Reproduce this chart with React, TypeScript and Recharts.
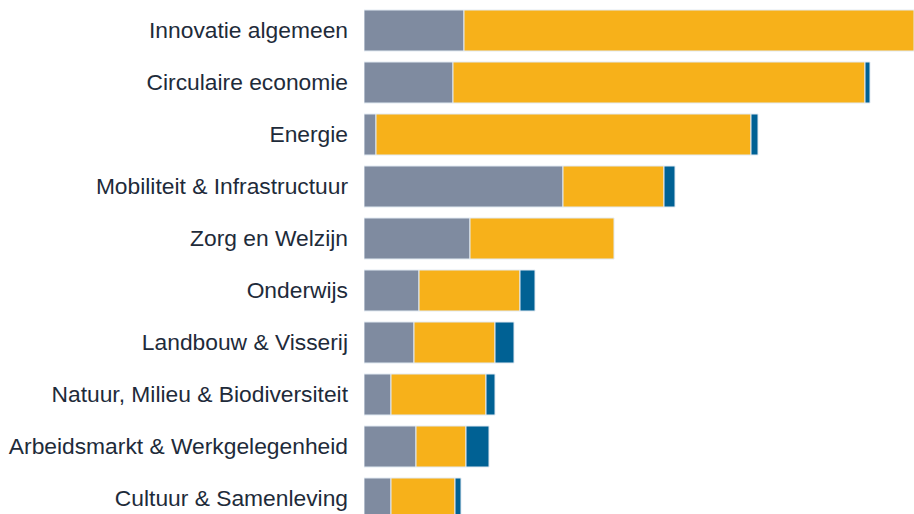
import { BarChart, Bar, XAxis, YAxis } from "recharts";

// categories, top to bottom
const categories = [
  "Innovatie algemeen",
  "Circulaire economie",
  "Energie",
  "Mobiliteit & Infrastructuur",
  "Zorg en Welzijn",
  "Onderwijs",
  "Landbouw & Visserij",
  "Natuur, Milieu & Biodiversiteit",
  "Arbeidsmarkt & Werkgelegenheid",
  "Cultuur & Samenleving",
];

const grijs = [50, 44.5, 6, 99.5, 53, 27.5, 25, 13.5, 26, 13.5];
const geel = [250, 206, 187.5, 50.5, 72, 50.5, 40.5, 47.5, 25, 32];
const blauw = [4, 2.5, 3.5, 5.5, 0, 7.5, 9.5, 4.5, 11.5, 3];

const data = categories.map((name, i) => ({
  name,
  grijs: grijs[i],
  geel: geel[i],
  blauw: blauw[i],
}));

const stroke = "#e2eaf2";

export default function App() {
  return (
    <div style={{ position: "absolute", left: 0, top: 0, width: 914, height: 514, overflow: "hidden" }}>
      <BarChart
        width={914}
        height={524}
        data={data}
        layout="vertical"
        margin={{ top: 4, right: 0, bottom: 0, left: 0 }}
        barSize={41}
      >
        <XAxis type="number" hide domain={[0, 275]} allowDataOverflow />
        <YAxis
          type="category"
          dataKey="name"
          width={364}
          axisLine={false}
          tickLine={false}
          tickMargin={10}
          interval={0}
          tick={{ fill: "#1e2b3a", fontSize: 22.8, fontFamily: "Liberation Sans, Arial, sans-serif" }}
        />
        <Bar dataKey="grijs" stackId="a" fill="#7f8ba0" stroke={stroke} strokeWidth={1} isAnimationActive={false} />
        <Bar dataKey="geel" stackId="a" fill="#f7b11a" stroke={stroke} strokeWidth={1} isAnimationActive={false} />
        <Bar dataKey="blauw" stackId="a" fill="#006194" stroke={stroke} strokeWidth={1} isAnimationActive={false} />
      </BarChart>
    </div>
  );
}
